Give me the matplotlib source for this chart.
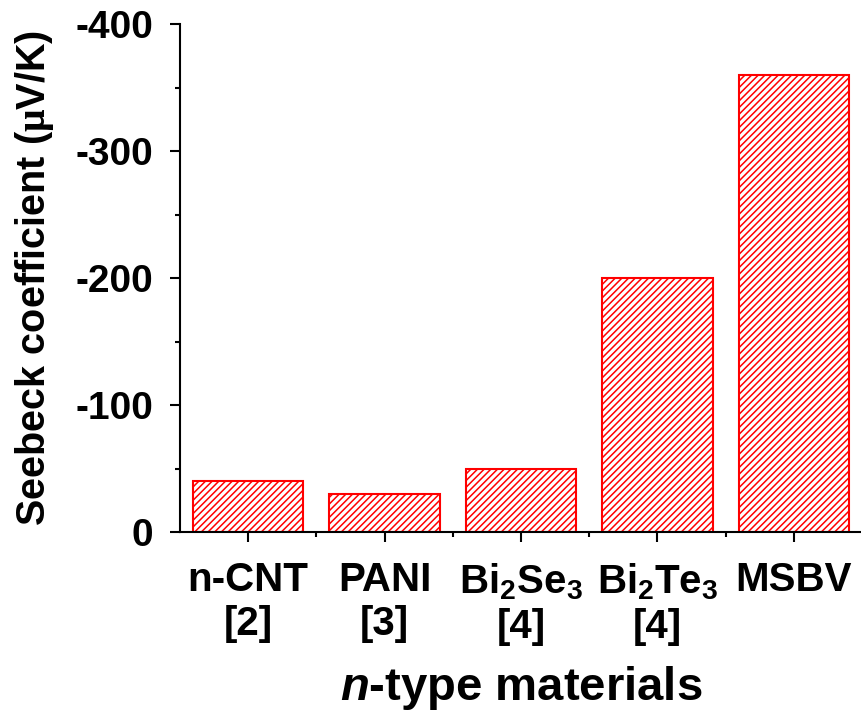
import numpy as np
import matplotlib
matplotlib.use('Agg')
import matplotlib.pyplot as plt
from matplotlib.ticker import MultipleLocator, FixedLocator

plt.rcParams['font.family'] = 'Liberation Sans'
plt.rcParams['font.weight'] = 'bold'
plt.rcParams['axes.unicode_minus'] = False
plt.rcParams['mathtext.fontset'] = 'custom'
plt.rcParams['mathtext.rm'] = 'Liberation Serif'
plt.rcParams['mathtext.bf'] = 'Liberation Sans:bold'
plt.rcParams['mathtext.it'] = 'Liberation Sans:italic:bold'
plt.rcParams['hatch.color'] = 'red'
plt.rcParams['hatch.linewidth'] = 1.1

# data (Seebeck coefficient, plotted as negative values)
materials = ['n-CNT\n[2]', 'PANI\n[3]', r'$\mathbf{Bi_2Se_3}$' + '\n[4]',
             r'$\mathbf{Bi_2Te_3}$' + '\n[4]', 'MSBV']
seebeck = [-40, -30, -50, -200, -360]
yticks = [0, -100, -200, -300, -400]

fig = plt.figure(figsize=(8.62, 7.17), dpi=100)
ax = fig.add_axes([0.2088, 0.258, 0.7912, 0.7085])

x = np.arange(1, len(seebeck) + 1)
ax.bar(x, seebeck, width=0.81, facecolor='white', edgecolor='red',
       linewidth=1.5, hatch='/////')

ax.set_xlim(0.5, 5.5)
ax.set_ylim(0, -400)
ax.set_yticks(yticks)
ax.yaxis.set_minor_locator(MultipleLocator(50))
ax.set_xticks(x)
ax.set_xticklabels(materials)
ax.xaxis.set_minor_locator(FixedLocator(np.arange(1.5, 5.5, 1.0)))

for s in ['top', 'right']:
    ax.spines[s].set_visible(False)
for s in ['left', 'bottom']:
    ax.spines[s].set_linewidth(1.5)

ax.tick_params(which='major', direction='out', length=7, width=1.5)
ax.tick_params(which='minor', direction='out', length=3.5, width=1.5)
ax.tick_params(axis='y', labelsize=28, pad=12)
ax.tick_params(axis='x', labelsize=29, pad=14)

ax.set_ylabel(r'Seebeck coefficient ($\mathrm{\mu}$V/K)', fontsize=28.5,
              fontweight='bold', labelpad=14)
ax.set_xlabel(r'$\mathit{n}$-type materials', fontsize=34,
              fontweight='bold', labelpad=13)

fig.savefig('out.png', dpi=100)
